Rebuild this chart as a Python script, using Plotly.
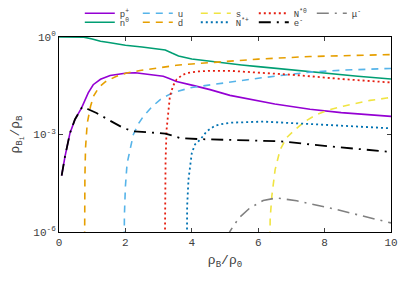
import plotly.graph_objects as go

# ---- data (x = rho_B / rho_0, y = rho_Bi / rho_B) ----
x_p = [0.08, 0.18, 0.33, 0.48, 0.68, 0.88, 1.03, 1.25, 1.54, 1.8, 2.04, 2.3, 2.54, 2.8, 3.14, 3.3, 3.54, 4.0, 4.55, 5.15, 5.45, 6.5, 7.56, 8.5, 10.0]
y_p = [5.4e-5, 2.1e-4, 1.1e-3, 2.9e-3, 6.6e-3, 1.9e-2, 3.4e-2, 5.0e-2, 6.5e-2, 7.2e-2, 7.8e-2, 7.9e-2, 7.4e-2, 6.9e-2, 6.2e-2, 5.4e-2, 4.3e-2, 3.3e-2, 2.4e-2, 1.6e-2, 1.38e-2, 8.7e-3, 6.0e-3, 4.7e-3, 3.6e-3]

x_n = [0.0, 0.4, 0.75, 1.0, 1.25, 1.5, 2.0, 2.5, 3.0, 3.2, 3.4, 3.6, 4.0, 4.5, 5.0, 5.5, 6.0, 7.0, 8.0, 9.0, 10.0]
y_n = [1.0, 1.0, 0.99, 0.87, 0.74, 0.68, 0.56, 0.49, 0.43, 0.40, 0.32, 0.26, 0.21, 0.18, 0.158, 0.138, 0.123, 0.098, 0.076, 0.062, 0.051]

x_u = [1.95, 1.97, 2.0, 2.05, 2.14, 2.24, 2.4, 2.54, 2.8, 3.04, 3.3, 3.54, 4.0, 4.55, 5.25, 6.0, 7.56, 8.5, 9.77, 10.0]
y_u = [1e-9, 3.2e-6, 2.5e-5, 1.26e-4, 3.4e-4, 1.0e-3, 2.2e-3, 3.6e-3, 7.1e-3, 1.17e-2, 1.66e-2, 2.1e-2, 2.8e-2, 3.4e-2, 4.3e-2, 5.4e-2, 8.3e-2, 9.5e-2, 0.106, 0.107]

x_d = [0.76, 0.77, 0.78, 0.80, 0.85, 0.95, 1.05, 1.2, 1.4, 1.7, 2.04, 2.44, 3.0, 3.54, 4.0, 5.05, 6.0, 7.56, 8.5, 9.87, 10.0]
y_d = [1e-9, 3.2e-6, 5e-5, 4e-4, 2.2e-3, 7.4e-3, 1.58e-2, 2.8e-2, 4.2e-2, 6.0e-2, 7.8e-2, 9.3e-2, 0.115, 0.135, 0.148, 0.174, 0.209, 0.251, 0.269, 0.285, 0.288]

x_s = [6.33, 6.36, 6.41, 6.51, 6.66, 6.85, 7.06, 7.4, 7.76, 8.1, 8.56, 9.0, 9.37, 9.87, 10.0]
y_s = [1e-9, 2.5e-6, 1.26e-5, 8.3e-5, 3.4e-4, 7.9e-4, 1.26e-3, 2.5e-3, 4.1e-3, 5.6e-3, 7.4e-3, 9.3e-3, 1.12e-2, 1.32e-2, 1.38e-2]

x_nsp = [3.84, 3.86, 3.9, 4.0, 4.1, 4.25, 4.45, 4.7, 4.9, 5.15, 6.15, 7.56, 9.0, 10.0]
y_nsp = [1e-9, 6.3e-6, 4.1e-5, 2.7e-4, 5.0e-4, 6.9e-4, 1.26e-3, 1.86e-3, 2.1e-3, 2.3e-3, 2.5e-3, 2.1e-3, 1.74e-3, 1.55e-3]

x_ns0 = [3.17, 3.19, 3.21, 3.24, 3.29, 3.34, 3.44, 3.54, 3.7, 3.85, 4.2, 4.55, 5.15, 6.0, 7.0, 7.56, 8.5, 10.0]
y_ns0 = [1e-9, 1e-5, 1.6e-4, 1.4e-3, 6.3e-3, 1.48e-2, 3.2e-2, 4.9e-2, 6.6e-2, 7.8e-2, 8.7e-2, 9.1e-2, 9.1e-2, 8.1e-2, 6.9e-2, 6.2e-2, 5.1e-2, 3.98e-2]

x_e = [0.08, 0.18, 0.33, 0.48, 0.68, 0.76, 0.88, 1.13, 1.5, 1.69, 1.94, 2.24, 2.6, 3.04, 3.2, 3.44, 3.64, 4.25, 5.15, 6.66, 8.16, 10.0]
y_e = [5.4e-5, 2.1e-4, 1.1e-3, 2.9e-3, 6.6e-3, 7.2e-3, 6.0e-3, 4.6e-3, 2.8e-3, 2.2e-3, 1.58e-3, 1.26e-3, 1.17e-3, 1.12e-3, 1.07e-3, 9.1e-4, 7.8e-4, 7.2e-4, 6.9e-4, 6.2e-4, 4.3e-4, 2.9e-4]

x_mu = [5.05, 5.15, 5.3, 5.45, 5.75, 6.15, 6.56, 7.16, 8.16, 9.17, 9.92, 10.0]
y_mu = [6.3e-7, 1.05e-6, 1.8e-6, 2.9e-6, 5.5e-6, 9.3e-6, 1.12e-5, 9.1e-6, 5.5e-6, 3.0e-6, 2.0e-6, 1.9e-6]

names = ["p<sup>+</sup>", "n<sup>0</sup>", "u", "d", "s", "N<sup>*+</sup>", "N<sup>*0</sup>", "e<sup>-</sup>", "μ<sup>-</sup>"]
xs = [x_p, x_n, x_u, x_d, x_s, x_nsp, x_ns0, x_e, x_mu]
ys = [y_p, y_n, y_u, y_d, y_s, y_nsp, y_ns0, y_e, y_mu]
colors = ["#9400D3", "#009E73", "#56B4E9", "#E69F00", "#F0E442", "#0072B2", "#E51E10", "#000000", "#808080"]
dashes = ["solid", "solid", "7px,6px", "7px,6px", "7px,6px", "2px,3px", "2px,3px", "12px,6px,2px,6px", "12px,6px,2px,6px"]
widths = [1.6, 1.6, 1.6, 1.6, 1.6, 1.8, 1.8, 1.8, 1.6]
# two legend rows (like the gnuplot key): top row and bottom row
rows = ["legend", "legend2", "legend", "legend2", "legend", "legend2", "legend", "legend2", "legend"]

fig = go.Figure()
for nm, x, y, c, d, w, lg in zip(names, xs, ys, colors, dashes, widths, rows):
    fig.add_trace(go.Scatter(x=x, y=y, mode="lines", name=nm, legend=lg,
                             line=dict(color=c, dash=d, width=w)))

font = "Liberation Mono, DejaVu Sans Mono, monospace"
leg_common = dict(orientation="h", xref="container", yref="container",
                  xanchor="left", yanchor="middle",
                  entrywidth=13, entrywidthmode="pixels", itemwidth=30,
                  font=dict(size=9, color="#404040"), bgcolor="rgba(0,0,0,0)")
fig.update_layout(
    width=415, height=291,
    margin=dict(l=51, r=32, t=29, b=67, autoexpand=False),
    paper_bgcolor="white", plot_bgcolor="white",
    font=dict(family=font, size=11, color="#404040"),
    legend=dict(x=0.173, y=0.982, **leg_common),
    legend2=dict(x=0.173, y=0.951, **leg_common),
    showlegend=True,
)
fig.update_xaxes(range=[0, 10], dtick=2, ticks="inside", ticklen=4, tickcolor="#404040",
                 showline=True, linecolor="black", linewidth=1, mirror="ticks",
                 showgrid=False, zeroline=False,
                 title=dict(text="ρ<sub>B</sub>/ρ<sub>0</sub>", standoff=6))
fig.update_yaxes(type="log", range=[-6, 0], tickvals=[1, 1e-3, 1e-6],
                 ticktext=["10<sup>0</sup>", "10<sup>-3</sup>", "10<sup>-6</sup>"],
                 ticks="inside", ticklen=4, tickcolor="#404040",
                 showline=True, linecolor="black", linewidth=1, mirror="ticks",
                 showgrid=False, zeroline=False,
                 title=dict(text="ρ<sub>B<sub>i</sub></sub>/ρ<sub>B</sub>", standoff=16))

fig.write_html("out.html")
